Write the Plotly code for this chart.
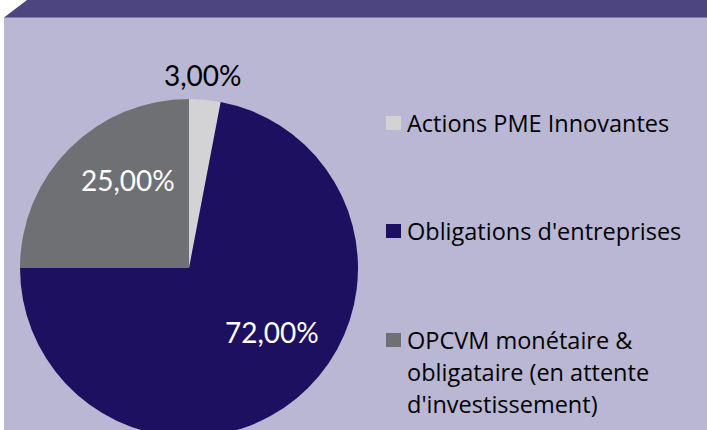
import plotly.graph_objs as go

# slices, clockwise from 12 o'clock
labels = ["Actions PME Innovantes",
          "Obligations d'entreprises",
          "OPCVM monétaire &<br>obligataire (en attente<br>d'investissement)"]
values = [3.0, 72.0, 25.0]
colors = ["#d3d3d6", "#1e1060", "#6f7073"]

W, H = 707, 440   # a little taller than the window so the pie bottom is cut


def px(x):
    return x / W


def py(y):
    return 1 - y / H


def fmt(v):
    return ("%.2f" % v).replace(".", ",") + "%"


pie = go.Pie(
    labels=labels,
    values=values,
    marker=dict(colors=colors, line=dict(width=0)),
    sort=False,
    direction="clockwise",
    rotation=0,
    textinfo="none",
    hoverinfo="label+percent",
    showlegend=False,
    domain=dict(x=[px(20), px(358)], y=[py(437), py(99)]),
)

shapes = [
    # lavender panel
    dict(type="rect", xref="paper", yref="paper", layer="below",
         x0=px(4), x1=1, y0=0, y1=py(17),
         fillcolor="#b9b7d3", line=dict(width=0)),
    # banner on top with the slanted left end
    dict(type="path", xref="paper", yref="paper", layer="below",
         path="M %f,%f L %f,%f L 1,%f L 1,%f Z" % (px(4), py(17.5), px(27), py(0),
                                                  py(0), py(17.5)),
         fillcolor="#4d4580", line=dict(width=0)),
]

annotations = []

# percent labels
label_pos = [(203, 75, "black"), (272, 332, "white"), (128, 180, "white")]
for v, (x, y, c) in zip(values, label_pos):
    annotations.append(dict(
        x=px(x), y=py(y), xref="paper", yref="paper", showarrow=False,
        text=fmt(v), xanchor="center", yanchor="middle",
        font=dict(family="Lato", size=28, color=c)))

# legend drawn by hand
legend_y = [123, 231, 340]
for lab, col, y in zip(labels, colors, legend_y):
    shapes.append(dict(type="rect", xref="paper", yref="paper",
                       x0=px(386), x1=px(401), y0=py(y + 7), y1=py(y - 7),
                       fillcolor=col, line=dict(width=0)))
    for i, line in enumerate(lab.split("<br>")):
        annotations.append(dict(
            x=px(405), y=py(y + i * 32), xref="paper", yref="paper",
            showarrow=False, text=line, xanchor="left", yanchor="middle",
            font=dict(family="Open Sans", size=23.5, color="black")))

layout = go.Layout(
    width=W, height=H,
    margin=dict(l=0, r=0, t=0, b=0),
    paper_bgcolor="white",
    plot_bgcolor="white",
    shapes=shapes,
    annotations=annotations,
)

fig = go.Figure(data=[pie], layout=layout)
fig.write_html("out.html", config={"displayModeBar": False},
               post_script="document.body.style.margin='0';"
                           "document.body.style.overflow='hidden';"
                           "document.documentElement.style.overflow='hidden';")
